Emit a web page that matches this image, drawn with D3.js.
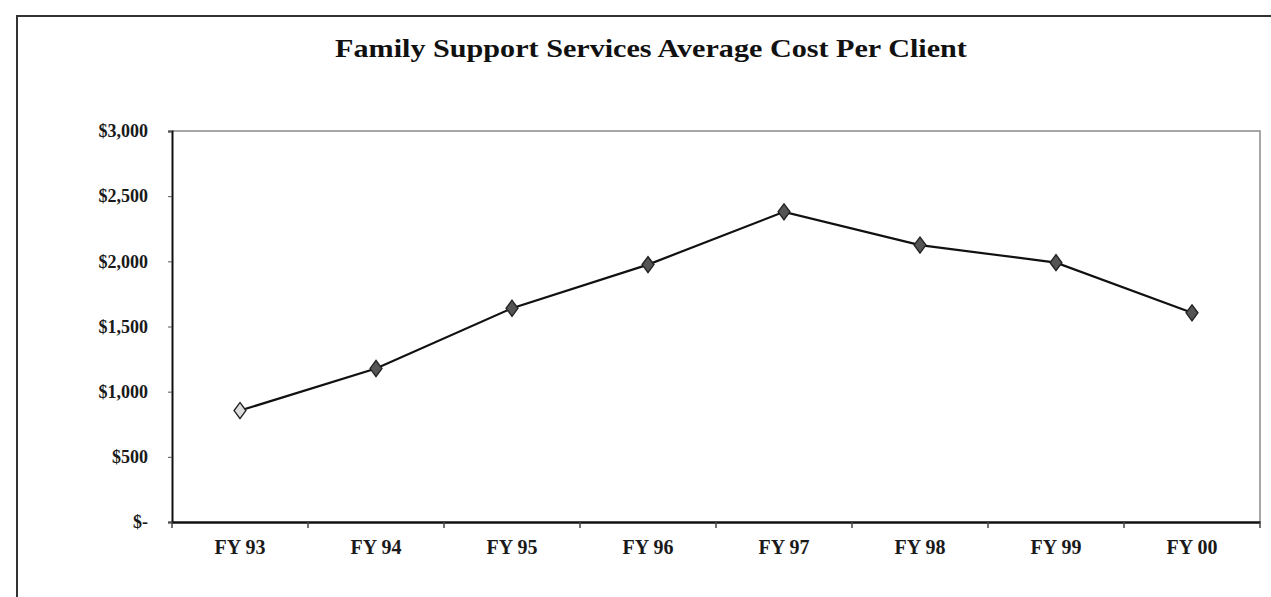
<!DOCTYPE html>
<html><head><meta charset="utf-8">
<script src="https://cdn.jsdelivr.net/npm/d3@7"></script>
<style>html,body{margin:0;padding:0;background:#fff;}svg{display:block;}</style>
</head><body>
<script>
const categories = ["FY 93","FY 94","FY 95","FY 96","FY 97","FY 98","FY 99","FY 00"];
const costPerClient = [855, 1178, 1640, 1975, 2380, 2125, 1990, 1605];
const yTickValues = [0, 500, 1000, 1500, 2000, 2500, 3000];
const yTickLabels = ["$-", "$500", "$1,000", "$1,500", "$2,000", "$2,500", "$3,000"];
const titleText = "Family Support Services Average Cost Per Client";

const W = 1271, H = 597;
const m = {left: 172, right: 1260, top: 131, bottom: 522};
const svg = d3.select("body").append("svg").attr("width", W).attr("height", H);
const font = "'Liberation Serif', 'Times New Roman', serif";

// outer frame
svg.append("path").attr("d", `M17,${H+5} L17,16 L${W+5},16`)
  .attr("fill","none").attr("stroke","#333").attr("stroke-width",2);

svg.append("g").attr("transform","translate(651,57) scale(1.16,1)")
  .append("text").attr("text-anchor","middle")
  .attr("font-family", font).attr("font-weight","bold").attr("font-size", 26)
  .attr("fill","#111").text(titleText);

const x = d3.scaleBand().domain(categories).range([m.left, m.right]);
const y = d3.scaleLinear().domain([0, 3000]).range([m.bottom, m.top]);

// plot area top/right border
svg.append("path").attr("d", `M${m.left},${m.top} L${m.right},${m.top} L${m.right},${m.bottom}`)
  .attr("fill","none").attr("stroke","#8a8a8a").attr("stroke-width",1.5);

// y axis
const yAxis = svg.append("g").attr("transform",`translate(${m.left},0)`)
  .call(d3.axisLeft(y).tickValues(yTickValues).tickSize(4).tickPadding(20)
    .tickFormat((d,i)=>yTickLabels[i]));
yAxis.select(".domain").attr("stroke","#111").attr("stroke-width",2);
yAxis.selectAll(".tick line").attr("stroke","#555");
yAxis.selectAll("text").attr("font-family",font).attr("font-size",18)
  .attr("font-weight","bold").attr("fill","#1a1a1a");

// x axis with ticks at band edges
const xAxis = svg.append("g").attr("transform",`translate(0,${m.bottom})`)
  .call(d3.axisBottom(x).tickSize(0).tickPadding(18));
xAxis.select(".domain").attr("stroke","#111").attr("stroke-width",2.5);
xAxis.selectAll("text").attr("font-family",font).attr("font-size",20)
  .attr("font-weight","bold").attr("fill","#1a1a1a");
const edges = categories.map(c => x(c)).concat([m.right]);
xAxis.selectAll(".edge").data(edges).enter().append("line")
  .attr("x1", d=>d).attr("x2", d=>d).attr("y1", 0).attr("y2", 6)
  .attr("stroke","#444").attr("stroke-width",1.5);

const cx = d => x(d) + x.bandwidth()/2;
const line = d3.line().x((d,i)=>cx(categories[i])).y(d=>y(d));
svg.append("path").datum(costPerClient).attr("d", line)
  .attr("fill","none").attr("stroke","#111").attr("stroke-width",2.2);

svg.selectAll(".mk").data(costPerClient).enter().append("path")
  .attr("d", d3.symbol().type(d3.symbolDiamond2).size(90))
  .attr("transform",(d,i)=>`translate(${cx(categories[i])},${y(d)}) scale(1,1.35)`)
  .attr("fill",(d,i)=> i===0 ? "#ddd" : "#555")
  .attr("stroke","#222").attr("stroke-width",1.2);
</script>
</body></html>
